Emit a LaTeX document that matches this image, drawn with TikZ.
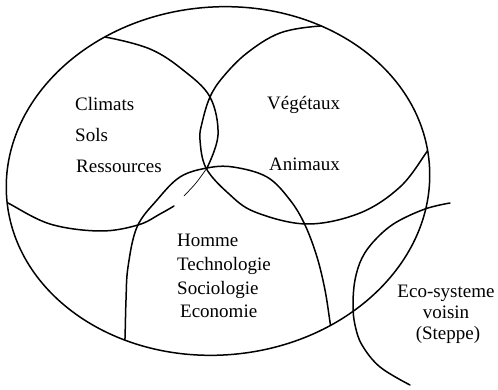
\documentclass[tikz,border=0pt]{standalone}
\usepackage{fontspec}
\setmainfont{Liberation Serif}

\tikzset{
  contour/.style={line width=1.5pt, line join=round, line cap=round},
  faint/.style={line width=0.7pt, line cap=round},
  zonetext/.style={font=\fontsize{19}{22}\selectfont, inner sep=0pt},
  outline/.style={rotate around={5:(218,181)}},
}

\begin{document}
\begin{tikzpicture}[x=1pt,y=-1pt]
    \useasboundingbox (0,0) rectangle (498,390);

    % Outer boundary of the ecosystem
    \draw[contour, outline] (218,181) ellipse [x radius=212, y radius=174];

    % Inner zones, cut at the outer boundary
    \begin{scope}
        \clip[outline] (218,181) ellipse [x radius=212, y radius=174];
        % Climats / Sols / Ressources
        \draw[contour] plot[smooth, tension=0.6] coordinates {(92,38) (105,37) (150,49) (183,70) (210,97) (218,135) (207,168)};
        \draw[faint] plot[smooth] coordinates {(207,168) (196,183) (184,196)};
        \draw[contour] plot[smooth, tension=0.6] coordinates {(174,206) (160,214) (138,225) (100,231) (50,224) (8,203) (0,199)};
        % Vegetaux / Animaux
        \draw[contour] plot[smooth, tension=0.6] coordinates {(340,28) (320,26) (280,33) (247,53) (223,77) (210,97) (202,123) (200,140) (206,168) (228,193) (255,212) (307,224) (360,213) (400,187) (426,153) (432,142)};
        % Homme
        \draw[contour] plot[smooth, tension=0.6] coordinates {(124,350) (125,338) (126,300) (128,267) (137,227) (157,200) (180,177) (207,168) (233,167) (267,177) (290,200) (305,225) (317,257) (325,290) (330,322) (332,335)};
    \end{scope}

    % Neighbouring ecosystem
    \draw[contour] plot[smooth, tension=0.6] coordinates {(450,203) (425,209) (395,223) (375,240) (362,258) (355,280) (353,305) (355,325) (362,345) (380,367) (410,385)};

    % Zone labels
    \node[zonetext, anchor=base west] (climats) at (75,111) {Climats};
    \node[zonetext, anchor=base west] (sols) at (75,142) {Sols};
    \node[zonetext, anchor=base west] (ressources) at (76,173) {Ressources};

    \node[zonetext, anchor=base west] (vegetaux) at (267,110) {Végétaux};
    \node[zonetext, anchor=base west] (animaux) at (269,171) {Animaux};

    \node[zonetext, anchor=base west] (homme) at (177,247) {Homme};
    \node[zonetext, anchor=base west] (technologie) at (177,270) {Technologie};
    \node[zonetext, anchor=base west] (sociologie) at (177,294) {Sociologie};
    \node[zonetext, anchor=base west] (economie) at (180,317) {Economie};

    \node[zonetext, anchor=base] (ecosysteme) at (446,297) {Eco-systeme};
    \node[zonetext, anchor=base] (voisin) at (446,318) {voisin};
    \node[zonetext, anchor=base] (steppe) at (448,339) {(Steppe)};
\end{tikzpicture}
\end{document}
